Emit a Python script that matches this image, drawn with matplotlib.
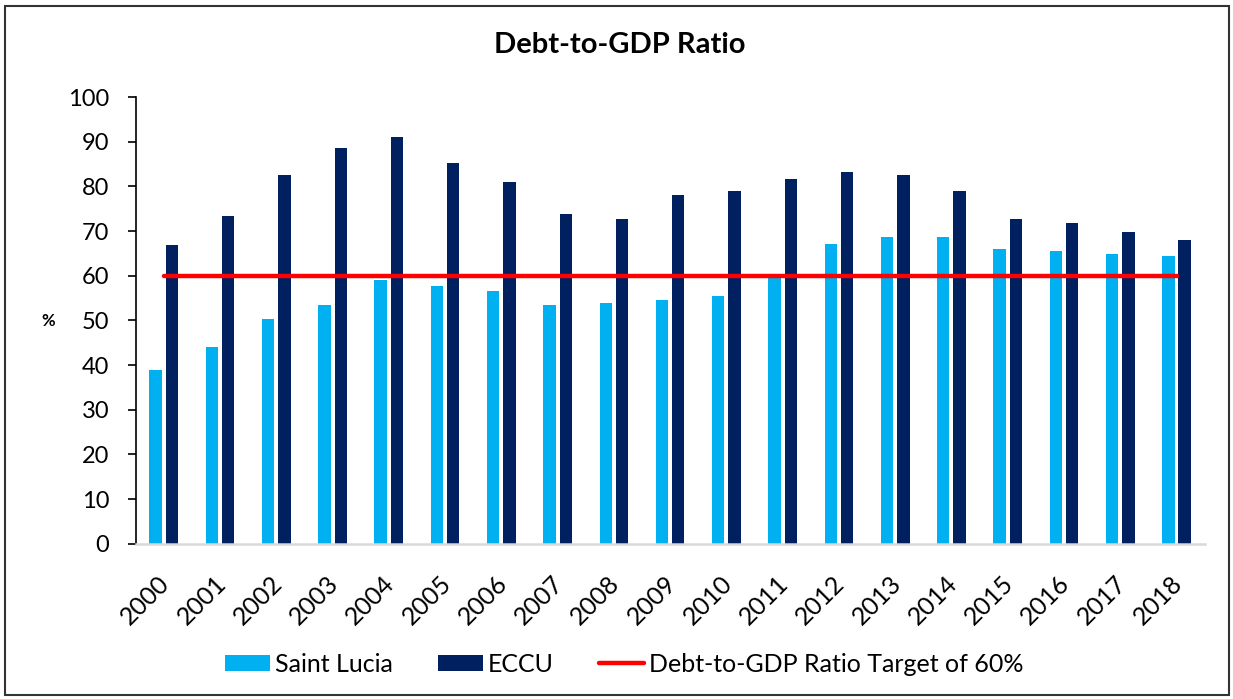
import numpy as np
import matplotlib
matplotlib.use("Agg")
from matplotlib import pyplot as plt
from matplotlib.patches import Rectangle
from matplotlib.transforms import ScaledTranslation

plt.rcParams['font.family'] = ['Lato', 'DejaVu Sans']

years = ["2000", "2001", "2002", "2003", "2004", "2005", "2006", "2007", "2008", "2009",
         "2010", "2011", "2012", "2013", "2014", "2015", "2016", "2017", "2018"]
saint_lucia = [39.0, 44.0, 50.3, 53.4, 59.0, 57.8, 56.6, 53.4, 53.9, 54.6,
               55.4, 59.8, 67.2, 68.8, 68.8, 66.0, 65.6, 64.8, 64.5]
eccu = [66.8, 73.4, 82.5, 88.7, 91.1, 85.3, 80.9, 73.9, 72.7, 78.1,
        79.0, 81.7, 83.3, 82.5, 79.0, 72.7, 71.9, 69.9, 68.0]
target = [60] * len(years)

x = np.arange(len(years))
w = 0.22

fig = plt.figure(figsize=(12.33, 6.99), dpi=100)
ax = fig.add_axes([0.110, 0.222, 0.867, 0.639])

b1 = ax.bar(x - 0.145, saint_lucia, w, color="#00B0F0", label="Saint Lucia", zorder=2)
b2 = ax.bar(x + 0.145, eccu, w, color="#002060", label="ECCU", zorder=2)
ln, = ax.plot(x, target, color="#FF0000", lw=3.2, solid_capstyle="round",
              label="Debt-to-GDP Ratio Target of 60%", zorder=3)

ax.set_xlim(-0.5, len(years) - 0.5)
ax.set_ylim(0, 100)
ax.set_yticks(range(0, 101, 10))
ax.set_xticks(x)
ax.set_xticklabels(years, rotation=45, ha="right", rotation_mode="anchor", fontsize=18)
ax.tick_params(axis="y", direction="out", length=6, width=1.2, pad=13, labelsize=17)
ax.tick_params(axis="x", length=0, pad=20)
shift = ScaledTranslation(-6 / 100, 0, fig.dpi_scale_trans)
for lab in ax.get_xticklabels():
    lab.set_transform(lab.get_transform() + shift)

for s in ["top", "right"]:
    ax.spines[s].set_visible(False)
ax.spines["left"].set_linewidth(1.2)
ax.spines["bottom"].set_color("#D9D9D9")
ax.spines["bottom"].set_linewidth(1.8)

fig.text(0.503, 0.935, "Debt-to-GDP Ratio", ha="center", va="center",
         fontsize=21, fontweight="bold")
fig.text(0.039, 0.541, "%", ha="center", va="center", fontsize=12, fontweight="bold")

fig.legend([b1, b2, ln], ["Saint Lucia", "ECCU", "Debt-to-GDP Ratio Target of 60%"],
           loc="center", bbox_to_anchor=(0.506, 0.05), ncol=3, frameon=False,
           fontsize=18, handlelength=1.8, handleheight=0.6, handletextpad=0.2,
           columnspacing=1.8)

fig.patches.append(Rectangle((0.004, 0.006), 0.993, 0.985, transform=fig.transFigure,
                             fill=False, edgecolor="#333333", lw=1.5))

fig.savefig("out.png", dpi=100)
